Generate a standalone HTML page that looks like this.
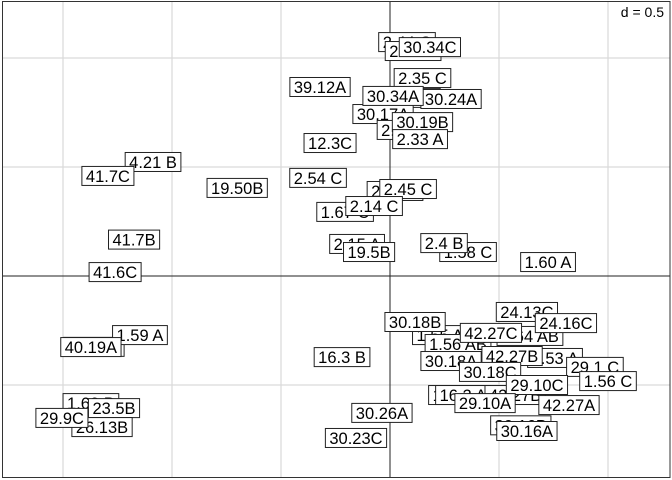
<!DOCTYPE html>
<html><head><meta charset="utf-8"><style>
html,body{margin:0;padding:0;background:#fff}
svg{display:block;font-family:"Liberation Sans",sans-serif}
</style></head><body>
<svg id="chart" width="672" height="480" xmlns="http://www.w3.org/2000/svg">
<rect x="0" y="0" width="672" height="480" fill="#fff"/>
<g id="grid"></g>
<g id="labels"></g>
<rect x="2.5" y="1.5" width="667.5" height="476" fill="none" stroke="#333" stroke-width="1"/>
<rect x="610" y="3" width="58" height="18" fill="#fff"/>
<text x="664" y="17" font-size="14" text-anchor="end" fill="#000">d = 0.5</text>
</svg>
<script>
const labels = ["2.44 C","2.44 B","30.34C","39.12A","2.35 C","30.17B","30.24A","30.17A","30.34A","2.33 B","30.19B","2.33 A","12.3C","2.54 C","2.45 B","2.45 C","1.67 C","2.14 C","2.15 A","19.5B","1.58 C","2.4 B","1.60 A","4.21 B","41.7C","19.50B","41.7B","41.6C","40.19B","1.59 A","40.19A","1.62 B","23.5B","26.13B","29.9C","16.3 B","30.26A","30.23C","24.13C","1.55 A","1.64 AB","30.18B","1.56 AB","42.27C","24.16C","1.53 A","30.18A","42.27B","30.18C","29.1 C","1.56 C","16.2 C","16.2 A","42.27B2","29.10C","29.10A","42.27A","30.16B","30.16A"];
const xs = [0.078,0.106,0.183,-0.321,0.149,0.092,0.280,-0.032,0.014,0.069,0.149,0.138,-0.275,-0.330,0.023,0.083,-0.206,-0.073,-0.151,-0.096,0.358,0.248,0.725,-1.087,-1.294,-0.701,-1.174,-1.261,-1.358,-1.147,-1.372,-1.372,-1.266,-1.321,-1.505,-0.220,-0.037,-0.156,0.628,0.229,0.642,0.115,0.312,0.463,0.807,0.757,0.280,0.560,0.459,0.940,1.000,0.307,0.335,0.574,0.674,0.436,0.821,0.600,0.628];
const ys = [1.073,1.032,1.050,0.867,0.908,0.817,0.812,0.743,0.826,0.670,0.706,0.628,0.610,0.450,0.390,0.399,0.294,0.321,0.147,0.110,0.110,0.151,0.064,0.523,0.459,0.404,0.167,0.018,-0.325,-0.271,-0.326,-0.583,-0.606,-0.693,-0.651,-0.372,-0.628,-0.743,-0.165,-0.271,-0.275,-0.211,-0.312,-0.261,-0.216,-0.376,-0.390,-0.367,-0.440,-0.417,-0.482,-0.546,-0.546,-0.546,-0.500,-0.583,-0.592,-0.685,-0.711];
const X = v => 390 + v*218;
const Y = v => 276 - v*218;
const gridVals = [-1.5,-1.0,-0.5,0.5,1.0,1.5];
const NS = "http://www.w3.org/2000/svg";
const g = document.getElementById('grid');
gridVals.forEach(v=>{
  const l=document.createElementNS(NS,'line');
  
  
  l.setAttribute('x1',X(v));l.setAttribute('x2',X(v));l.setAttribute('y1',2);l.setAttribute('y2',477);
  l.setAttribute('stroke','#d9d9d9');l.setAttribute('stroke-width','1.2');g.appendChild(l);
});
[-1.0,-0.5,0.5,1.0].forEach(v=>{
  const l=document.createElementNS(NS,'line');
  
  
  l.setAttribute('y1',Y(v));l.setAttribute('y2',Y(v));l.setAttribute('x1',3);l.setAttribute('x2',670);
  l.setAttribute('stroke','#d9d9d9');l.setAttribute('stroke-width','1.2');g.appendChild(l);
});
const ax1=document.createElementNS(NS,'line');


ax1.setAttribute('x1',3);ax1.setAttribute('x2',670);ax1.setAttribute('y1',Y(0));ax1.setAttribute('y2',Y(0));ax1.setAttribute('stroke','#222');g.appendChild(ax1);
const ax2=document.createElementNS(NS,'line');


ax2.setAttribute('x1',X(0));ax2.setAttribute('x2',X(0));ax2.setAttribute('y1',2);ax2.setAttribute('y2',477);ax2.setAttribute('stroke','#222');g.appendChild(ax2);
const lg=document.getElementById('labels');
labels.forEach((t,i)=>{
  const cx=X(xs[i]), cy=Y(ys[i]);
  const grp=document.createElementNS(NS,'g');
  
  
  const r=document.createElementNS(NS,'rect');
  const tx=document.createElementNS(NS,'text');
  tx.setAttribute('x',cx);tx.setAttribute('y',cy+6);tx.setAttribute('text-anchor','middle');
  tx.setAttribute('font-size','16.5');tx.setAttribute('fill','#000');
  tx.textContent=t.replace('42.27B2','42.27B');
  grp.appendChild(r);grp.appendChild(tx);lg.appendChild(grp);
  const w=tx.getComputedTextLength()+8;
  r.setAttribute('x',cx-w/2);r.setAttribute('y',cy-9.5);r.setAttribute('width',w);r.setAttribute('height',19);
  r.setAttribute('fill','#fff');r.setAttribute('stroke','#222');r.setAttribute('stroke-width','1');
});
</script>
</body></html>
